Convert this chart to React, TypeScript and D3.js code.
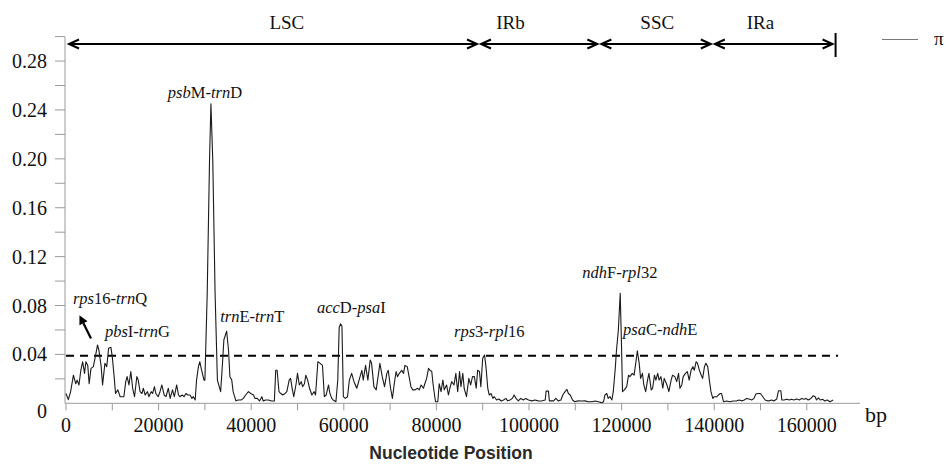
import React from "react";
import * as d3 from "d3";

// ---- data ----
const positions: number[] = [
  0, 500, 1000, 1600, 2100, 2400, 2800, 3200, 3600, 4000, 4300, 4700, 5000, 5400, 5900, 6400, 6800, 7100, 7600, 7900,
  8400, 8800, 9200, 9700, 10000, 10400, 10700, 11200, 11700, 12100, 12500, 12900, 13200, 13600, 14000, 14400, 14800, 15300, 15600, 16000,
  16400, 16700, 17100, 17600, 17900, 18400, 18700, 19100, 19400, 19900, 20300, 20700, 21200, 21600, 22100, 22500, 23000, 23400, 23900, 24300,
  24600, 25100, 25500, 25900, 26300, 26800, 27200, 27500, 27900, 28200, 28600, 28900, 29300, 29800, 30000, 30500, 31000, 31300, 31700, 32200,
  32700, 33400, 33800, 34100, 34700, 35100, 35400, 35800, 36100, 36700, 37200, 37800, 38300, 38800, 39400, 39900, 40500, 40800, 41300, 41800,
  42300, 42600, 43100, 43700, 44400, 45000, 45300, 45600, 46000, 46400, 46800, 47300, 47700, 48200, 48500, 48900, 49200, 49700, 50000, 50400,
  50800, 51100, 51500, 51800, 52200, 52600, 53100, 53600, 53900, 54400, 54900, 55400, 55800, 56200, 56700, 57000, 57400, 57700, 58300, 58700,
  59000, 59300, 59600, 59900, 60300, 60800, 61200, 61700, 62200, 62800, 63300, 63900, 64200, 64700, 65200, 65700, 66000, 66500, 67000, 67500,
  67800, 68300, 68800, 69300, 69600, 70100, 70500, 70900, 71300, 71600, 72000, 72500, 72900, 73200, 73700, 74100, 74500, 74900, 75400, 75900,
  76300, 76700, 77200, 77500, 77900, 78300, 78600, 79000, 79300, 79800, 80300, 80600, 81000, 81400, 81700, 82200, 82600, 82900, 83300, 83800,
  84200, 84600, 85000, 85300, 85700, 86000, 86500, 87000, 87400, 87800, 88200, 88600, 88900, 89300, 89600, 90000, 90400, 90700, 91100, 91400,
  91800, 92200, 92500, 93000, 93500, 94000, 94500, 95000, 95400, 95900, 96400, 96800, 97200, 97700, 98200, 98800, 99300, 99900, 100600, 101300,
  102000, 102700, 103500, 103700, 104200, 104400, 105300, 105800, 106300, 106900, 107300, 107800, 108200, 108500, 108900, 109400, 109900, 110600, 111400, 112100,
  112800, 113500, 114300, 115000, 115700, 116100, 116400, 116800, 117100, 117500, 117900, 118200, 118600, 118900, 119300, 119700, 119900, 120200, 120600, 121100,
  121500, 121800, 122300, 122700, 123100, 123400, 123800, 124100, 124500, 124800, 125200, 125600, 125900, 126400, 126700, 127100, 127400, 127800, 128100, 128500,
  128900, 129200, 129800, 130200, 130700, 131000, 131500, 131900, 132300, 132600, 133000, 133300, 133800, 134200, 134600, 135000, 135400, 135700, 136100, 136400,
  136800, 137200, 137500, 137900, 138200, 138600, 139000, 139300, 139700, 140000, 140600, 140900, 141300, 141600, 142000, 142700, 143400, 144100, 144900, 145400,
  145900, 146500, 147000, 147500, 148100, 148600, 149000, 149500, 150000, 150500, 151000, 151500, 151900, 152400, 152900, 153500, 153900, 154400, 154600, 155100,
  155700, 156200, 156700, 157200, 157800, 158400, 158900, 159400, 159800, 160300, 160900, 161400, 161800, 162100, 162500, 162900, 163400, 163900, 164400, 165000,
  165700,
];
const piValues: number[] = [
  0.008, 0.003, 0.0095, 0.023, 0.016, 0.019, 0.015, 0.027, 0.034, 0.0245, 0.034, 0.031, 0.016, 0.0286, 0.03, 0.0395, 0.0477, 0.0436, 0.03, 0.015,
  0.0327, 0.03, 0.045, 0.0458, 0.038, 0.0218, 0.008, 0.011, 0.0054, 0.0054, 0.0054, 0.0177, 0.0218, 0.015, 0.026, 0.0123, 0.0054, 0.0218, 0.019, 0.0095,
  0.008, 0.0123, 0.0068, 0.0095, 0.0054, 0.0095, 0.008, 0.0136, 0.008, 0.0054, 0.0095, 0.015, 0.0068, 0.0054, 0.0123, 0.004, 0.011, 0.0054, 0.015, 0.0068,
  0.0054, 0.0068, 0.0054, 0.008, 0.0068, 0.0068, 0.004, 0.0054, 0.0027, 0.019, 0.03, 0.034, 0.027, 0.019, 0.019, 0.09, 0.199, 0.245, 0.199, 0.09,
  0.019, 0.0095, 0.0327, 0.052, 0.059, 0.0436, 0.0218, 0.019, 0.0095, 0.002, 0.0027, 0.0027, 0.004, 0.0068, 0.0095, 0.008, 0.0068, 0.004, 0.004, 0.0019,
  0.0054, 0.0019, 0.0027, 0.0027, 0.0019, 0.0019, 0.027, 0.027, 0.0095, 0.008, 0.0068, 0.008, 0.0095, 0.019, 0.0204, 0.011, 0.0054, 0.016, 0.0245, 0.015,
  0.0177, 0.0136, 0.016, 0.023, 0.019, 0.0123, 0.0068, 0.0095, 0.0068, 0.034, 0.0327, 0.031, 0.0054, 0.0068, 0.015, 0.008, 0.004, 0.0027, 0.0013, 0.019,
  0.062, 0.065, 0.063, 0.0054, 0.004, 0.0054, 0.019, 0.0245, 0.0177, 0.0123, 0.019, 0.027, 0.019, 0.031, 0.019, 0.0354, 0.0327, 0.0136, 0.011, 0.0245,
  0.0327, 0.0218, 0.0136, 0.0245, 0.027, 0.0123, 0.004, 0.016, 0.026, 0.0218, 0.0245, 0.027, 0.0245, 0.031, 0.03, 0.0218, 0.0136, 0.011, 0.011, 0.0123,
  0.011, 0.015, 0.0123, 0.016, 0.0204, 0.0286, 0.027, 0.026, 0.015, 0.0013, 0.0013, 0.016, 0.0095, 0.019, 0.011, 0.015, 0.0068, 0.0123, 0.0177, 0.015,
  0.0245, 0.0095, 0.026, 0.0136, 0.0245, 0.0123, 0.0054, 0.0204, 0.015, 0.0218, 0.0218, 0.0123, 0.027, 0.026, 0.0136, 0.0368, 0.0395, 0.03, 0.0123, 0.0068,
  0.008, 0.004, 0.0054, 0.0027, 0.0035, 0.0019, 0.0027, 0.004, 0.002, 0.0027, 0.004, 0.0068, 0.004, 0.002, 0.004, 0.0027, 0.004, 0.0027, 0.002, 0.0027,
  0.002, 0.0019, 0.0027, 0.01, 0.01, 0.002, 0.002, 0.004, 0.002, 0.0027, 0.0068, 0.0095, 0.0114, 0.008, 0.0068, 0.0027, 0.0013, 0.002, 0.0019, 0.002,
  0.0013, 0.0013, 0.0019, 0.0013, 0.0005, 0.0013, 0.0068, 0.008, 0.004, 0.0054, 0.0027, 0.0095, 0.027, 0.0436, 0.06, 0.09, 0.06, 0.0095, 0.011, 0.0136,
  0.023, 0.0218, 0.0245, 0.023, 0.034, 0.043, 0.0327, 0.0204, 0.0245, 0.015, 0.0095, 0.019, 0.0245, 0.011, 0.0123, 0.023, 0.019, 0.0245, 0.019, 0.0218,
  0.0123, 0.0204, 0.015, 0.0095, 0.019, 0.023, 0.0218, 0.0177, 0.0245, 0.0123, 0.015, 0.0218, 0.0245, 0.026, 0.019, 0.027, 0.03, 0.027, 0.034, 0.0327,
  0.027, 0.023, 0.0204, 0.03, 0.0327, 0.03, 0.0177, 0.0095, 0.004, 0.0054, 0.0054, 0.0068, 0.008, 0.008, 0.0013, 0.0019, 0.0013, 0.0019, 0.002, 0.0027,
  0.002, 0.0027, 0.004, 0.0035, 0.0027, 0.004, 0.0076, 0.008, 0.008, 0.0054, 0.0027, 0.002, 0.002, 0.0027, 0.0019, 0.0035, 0.0103, 0.0103, 0.0027, 0.0027,
  0.0033, 0.0027, 0.0033, 0.0027, 0.0035, 0.0027, 0.004, 0.0033, 0.004, 0.0027, 0.004, 0.0062, 0.0054, 0.0027, 0.0045, 0.0027, 0.0033, 0.0019, 0.0027, 0.0013,
  0.0027,
];

const yTickValues: number[] = [0, 0.04, 0.08, 0.12, 0.16, 0.2, 0.24, 0.28];
const yMinorTicks: number[] = [0.02, 0.04, 0.06, 0.08, 0.1, 0.12, 0.14, 0.16, 0.18, 0.2, 0.22, 0.24, 0.26, 0.28, 0.3];
const xTickValues: number[] = [0, 20000, 40000, 60000, 80000, 100000, 120000, 140000, 160000];
const xMinorTicks: number[] = [0, 10000, 20000, 30000, 40000, 50000, 60000, 70000, 80000, 90000, 100000, 110000, 120000, 130000, 140000, 150000, 160000];

const regionNames: string[] = ["LSC", "IRb", "SSC", "IRa"];
const regionBounds: number[] = [0, 89200, 115200, 139700, 166000];
const regionLabelPos: number[] = [47700, 96000, 127700, 150000];
const threshold = 0.039;

// annotation labels: '*' toggles italic
const labelTexts: string[] = ["*psb*M-*trn*D", "*rps*16-*trn*Q", "*pbs*I-*trn*G", "*trn*E-*trn*T", "*acc*D-*psa*I", "*rps*3-*rpl*16", "*ndh*F-*rpl*32", "*psa*C-*ndh*E"];
const labelPos: number[] = [22000, 1500, 8400, 33300, 54200, 83800, 111500, 120300];
const labelPi: number[] = [0.2497, 0.0815, 0.0543, 0.0667, 0.0739, 0.0543, 0.1025, 0.056];

const W = 950;
const H = 464;
const x0 = 66;
const pxPer10k = 46.3;
const yBase = 403.3;
const yTop = 36.6;

export default function App() {
  const x = d3.scaleLinear().domain([0, 160000]).range([x0, x0 + 16 * pxPer10k]);
  const y = d3.scaleLinear().domain([0, 0.3]).range([yBase, yTop]);
  const pts = positions.map((p, i) => [p, piValues[i]] as [number, number]);
  const line = d3.line<[number, number]>().x((d) => x(d[0])).y((d) => y(d[1]));

  const serif = "'Liberation Serif', 'Times New Roman', serif";
  const axisColor = "#9a9a9a";
  const arrowY = 44;

  const arrowHead = (xTip: number, dir: number, key: string) => (
    <path
      key={key}
      d={`M${xTip + dir * 10},${arrowY - 4.5} L${xTip},${arrowY} L${xTip + dir * 10},${arrowY + 4.5}`}
      fill="none"
      stroke="#000"
      strokeWidth={2}
    />
  );

  // small pointer arrow for rps16-trnQ
  const ax1 = x(5400), ay1 = y(0.053), ax2 = x(2900), ay2 = y(0.072);
  const ang = Math.atan2(ay2 - ay1, ax2 - ax1);
  const hl = 9, hw = 4.5;
  const bx = ax2 - hl * Math.cos(ang), by = ay2 - hl * Math.sin(ang);
  const headPts = [
    [ax2, ay2],
    [bx + hw * Math.sin(ang), by - hw * Math.cos(ang)],
    [bx - hw * Math.sin(ang), by + hw * Math.cos(ang)],
  ];

  return (
    <svg width={W} height={H} style={{ position: "absolute", left: 0, top: 0, background: "#fff" }} fontFamily={serif}>
      <rect width={W} height={H} fill="#fff" />
      {/* y axis */}
      <line x1={65} x2={65} y1={yTop} y2={yBase} stroke={axisColor} strokeWidth={1} />
      {yMinorTicks.map((t) => (
        <line key={"ym" + t} x1={55} x2={65} y1={y(t)} y2={y(t)} stroke={axisColor} strokeWidth={1} />
      ))}
      {yTickValues.map((t) => (
        <text key={"yl" + t} x={47} y={y(t) + (t === 0 ? 15 : 7)} textAnchor="end" fontSize={20} fill="#111">
          {t === 0 ? "0" : t.toFixed(2)}
        </text>
      ))}
      {/* x axis */}
      <line x1={65} x2={860} y1={yBase} y2={yBase} stroke={axisColor} strokeWidth={1} />
      {xMinorTicks.map((t) => (
        <line key={"xm" + t} x1={x(t)} x2={x(t)} y1={yBase} y2={yBase + 7} stroke={axisColor} strokeWidth={1} />
      ))}
      {xTickValues.map((t) => (
        <text key={"xl" + t} x={x(t)} y={432} textAnchor="middle" fontSize={20} fill="#111">
          {String(t)}
        </text>
      ))}
      <text x={865} y={422} fontSize={22} fill="#111">bp</text>
      <text x={451} y={459} textAnchor="middle" fontSize={17.5} fontWeight="bold" fontFamily="'Liberation Sans', Arial, sans-serif" fill="#2a2a2a">
        Nucleotide Position
      </text>

      {/* threshold dashed line */}
      <line x1={x(0)} x2={838} y1={y(threshold)} y2={y(threshold)} stroke="#000" strokeWidth={2} strokeDasharray="8,6" />

      {/* data line */}
      <path d={line(pts) || ""} fill="none" stroke="#1a1a1a" strokeWidth={1.1} strokeLinejoin="round" />

      {/* region arrows */}
      {regionNames.map((name, i) => {
        const xa = x(regionBounds[i]) + (i === 0 ? 3 : 2);
        const xb = x(regionBounds[i + 1]) - 2;
        return (
          <g key={name}>
            <line x1={xa} x2={xb} y1={arrowY} y2={arrowY} stroke="#000" strokeWidth={2} />
            {arrowHead(xa, 1, name + "l")}
            {arrowHead(xb, -1, name + "r")}
            <text x={x(regionLabelPos[i])} y={29} textAnchor="middle" fontSize={19} fill="#111">
              {name}
            </text>
          </g>
        );
      })}
      <line x1={x(regionBounds[4]) + 1} x2={x(regionBounds[4]) + 1} y1={33} y2={57} stroke="#000" strokeWidth={2} />

      {/* legend */}
      <line x1={882} x2={918} y1={39.5} y2={39.5} stroke="#777" strokeWidth={1} />
      <text x={934} y={45} fontSize={19} fill="#111">π</text>

      {/* annotations */}
      {labelTexts.map((lt, i) => {
        const parts = lt.split("*");
        return (
          <text key={"lab" + i} x={x(labelPos[i])} y={y(labelPi[i])} fontSize={16.5} fill="#111">
            {parts.map((p, j) =>
              p.length ? (
                <tspan key={j} fontStyle={j % 2 === 1 ? "italic" : "normal"}>
                  {p}
                </tspan>
              ) : null
            )}
          </text>
        );
      })}
      {/* arrow for rps16-trnQ */}
      <line x1={ax1} y1={ay1} x2={bx} y2={by} stroke="#000" strokeWidth={2.2} />
      <polygon points={headPts.map((p) => p.join(",")).join(" ")} fill="#000" />
    </svg>
  );
}
